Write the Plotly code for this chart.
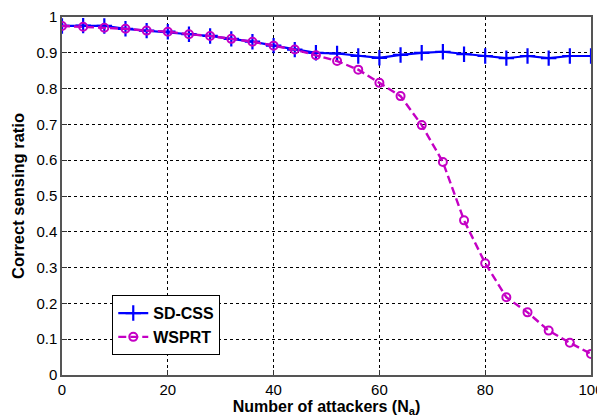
import plotly.graph_objects as go

attackers = [0, 4, 8, 12, 16, 20, 24, 28, 32, 36, 40, 44, 48, 52, 56, 60, 64, 68, 72, 76, 80, 84, 88, 92, 96, 100]
sd_css = [0.975, 0.976, 0.975, 0.967, 0.962, 0.959, 0.952, 0.947, 0.939, 0.931, 0.920, 0.909, 0.900, 0.898,
          0.891, 0.886, 0.894, 0.900, 0.903, 0.896, 0.891, 0.885, 0.891, 0.885, 0.891, 0.891]
wsprt = [0.975, 0.973, 0.970, 0.967, 0.962, 0.959, 0.952, 0.947, 0.939, 0.931, 0.920, 0.909, 0.893, 0.877,
         0.853, 0.816, 0.779, 0.698, 0.595, 0.432, 0.312, 0.217, 0.175, 0.124, 0.090, 0.059]

FONT = "Liberation Sans, Arial, sans-serif"

fig = go.Figure()
fig.add_trace(go.Scatter(
    x=attackers, y=sd_css, name="SD-CSS", mode="lines+markers",
    line=dict(color="#0000ff", width=2.2),
    marker=dict(symbol="cross-thin", size=11, line=dict(color="#0000ff", width=2.2)),
))
fig.add_trace(go.Scatter(
    x=attackers, y=wsprt, name="WSPRT", mode="lines+markers",
    line=dict(color="#c400c4", width=2.4, dash="8px,4px"),
    marker=dict(symbol="circle-open", size=8, line=dict(color="#c400c4", width=2)),
))

axis_common = dict(
    showline=True, linecolor="#555555", linewidth=1.5, mirror=True,
    ticks="inside", ticklen=5, tickcolor="#333333",
    showgrid=True, gridcolor="#000000", griddash="dot", gridwidth=1,
    zeroline=False, automargin=False,
    tickfont=dict(family=FONT, size=15, color="#000000"),
)

# page body has an 8px margin, so the figure is sized to fill the rest of the 605x417 window
fig.update_layout(
    width=597, height=409,
    margin=dict(l=54, r=14, t=9, b=42),
    paper_bgcolor="white", plot_bgcolor="white",
    font=dict(family=FONT, color="#000000"),
    xaxis=dict(range=[0, 100], dtick=20, ticklabelstandoff=0,
               title=dict(text="<b>Number of attackers (N<sub>a</sub>)</b>", font=dict(size=16, family=FONT), standoff=2),
               **axis_common),
    yaxis=dict(range=[0, 1], dtick=0.1, ticklabelstandoff=0,
               title=dict(text="<b>Correct sensing ratio</b>", font=dict(size=16.5, family=FONT), standoff=8),
               **axis_common),
    legend=dict(x=0.095, y=0.223, xanchor="left", yanchor="top",
                bgcolor="white", bordercolor="#000000", borderwidth=1,
                font=dict(size=16, family=FONT, weight="bold"),
                tracegroupgap=0, itemwidth=30),
    showlegend=True,
)

fig.write_html("out.html")
